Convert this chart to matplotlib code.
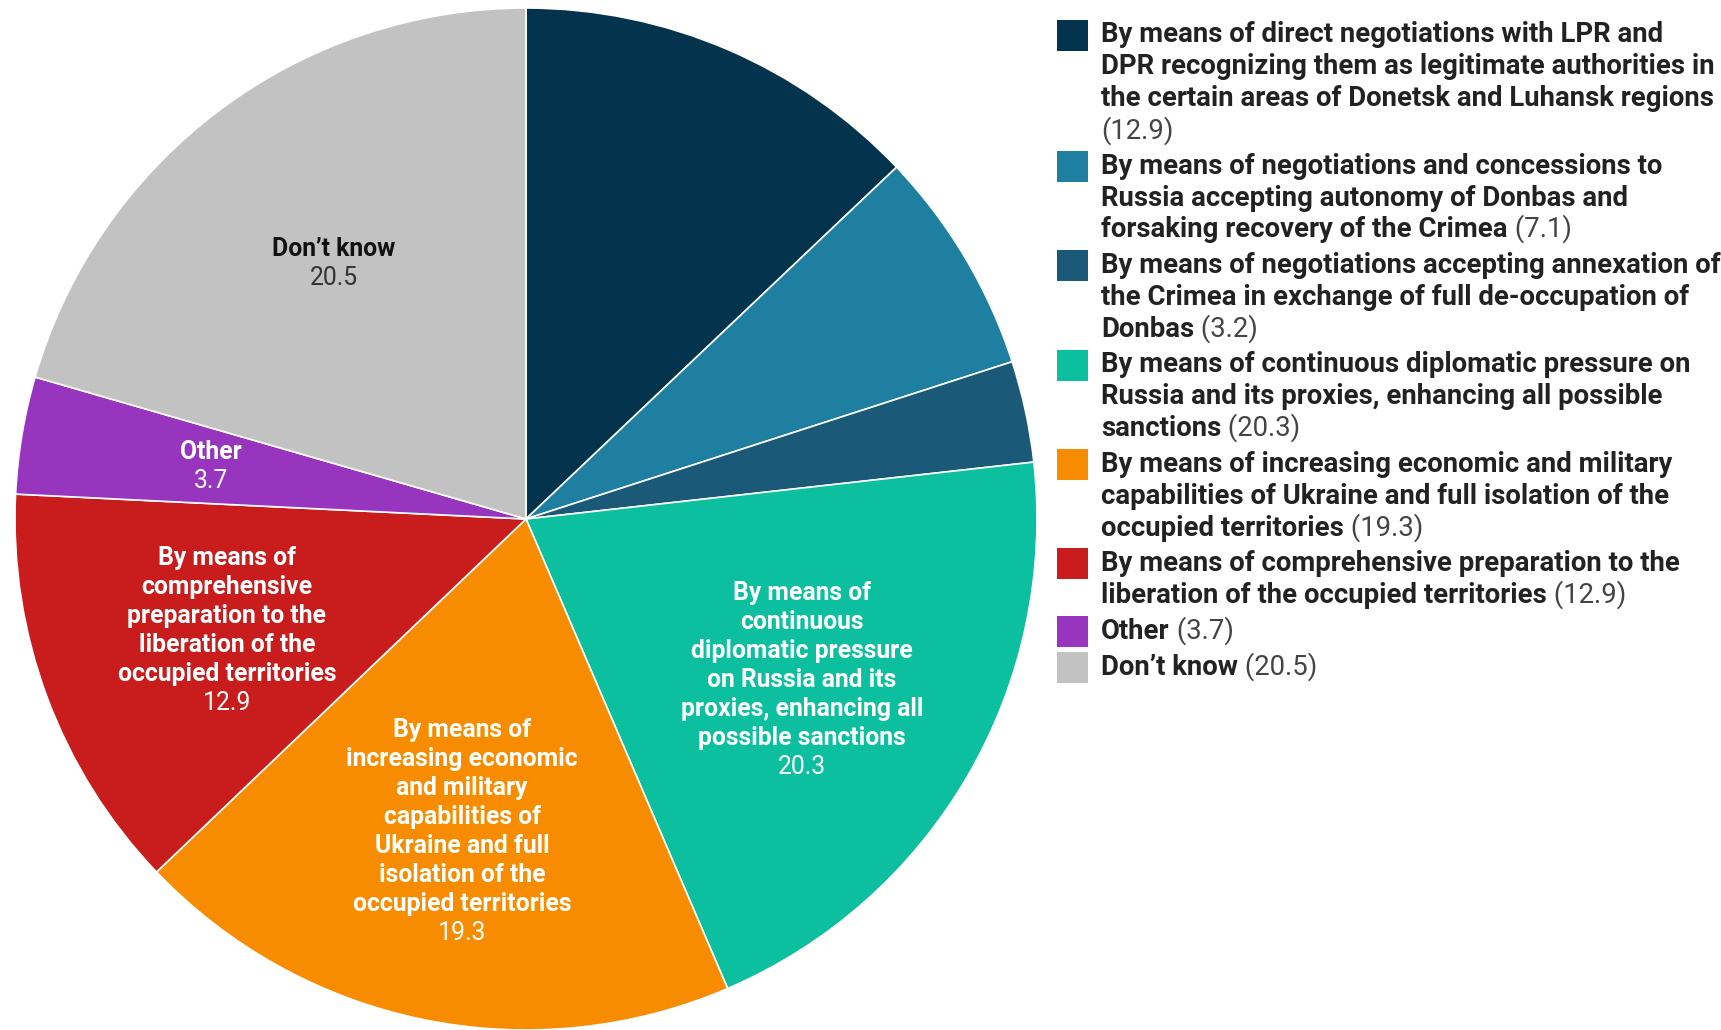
import matplotlib
matplotlib.use("Agg")
import matplotlib.pyplot as plt
import numpy as np

# ---- data ----
legend_labels = [
    "By means of direct negotiations with LPR and\nDPR recognizing them as legitimate authorities in\nthe certain areas of Donetsk and Luhansk regions\n",
    "By means of negotiations and concessions to\nRussia accepting autonomy of Donbas and\nforsaking recovery of the Crimea",
    "By means of negotiations accepting annexation of\nthe Crimea in exchange of full de-occupation of\nDonbas",
    "By means of continuous diplomatic pressure on\nRussia and its proxies, enhancing all possible\nsanctions",
    "By means of increasing economic and military\ncapabilities of Ukraine and full isolation of the\noccupied territories",
    "By means of comprehensive preparation to the\nliberation of the occupied territories",
    "Other",
    "Don\u2019t know",
]
slice_labels = [
    None,
    None,
    None,
    "By means of\ncontinuous\ndiplomatic pressure\non Russia and its\nproxies, enhancing all\npossible sanctions",
    "By means of\nincreasing economic\nand military\ncapabilities of\nUkraine and full\nisolation of the\noccupied territories",
    "By means of\ncomprehensive\npreparation to the\nliberation of the\noccupied territories",
    "Other",
    "Don\u2019t know",
]
values = [12.9, 7.1, 3.2, 20.3, 19.3, 12.9, 3.7, 20.5]
colors = ["#04344d", "#1e7fa0", "#1a5a78", "#0bbf9f", "#f88c00", "#c81c1d", "#9835be", "#c2c2c2"]
label_colors = [None, None, None, "white", "white", "white", "white", "#111111"]
value_colors = [None, None, None, "white", "white", "white", "white", "#333333"]

W, H = 1721, 1030
fig = plt.figure(figsize=(W / 100, H / 100), dpi=100)
ax = fig.add_axes([0, 0, 1, 1])

FONT = "Roboto"
cx, cy, R = 526, H - 519, 511

wedges, _ = ax.pie(values, colors=colors, startangle=90, counterclock=False,
                   center=(cx, cy), radius=R, normalize=True,
                   wedgeprops=dict(edgecolor="white", linewidth=1.2))
ax.set_xlim(0, W)
ax.set_ylim(0, H)
ax.set_aspect("equal")
ax.axis("off")

# ---- labels inside slices ----
pitch = 29.0
wfs = 17.8
for w, lab, v, lc, vc in zip(wedges, slice_labels, values, label_colors, value_colors):
    if lab is None:
        continue
    ang = np.deg2rad((w.theta1 + w.theta2) / 2)
    px = cx + 0.625 * R * np.cos(ang)
    py = cy + 0.625 * R * np.sin(ang)
    lines = lab.split("\n")
    N = len(lines) + 1
    top = py + (N - 1) * pitch / 2
    for i, ln in enumerate(lines):
        ax.text(px, top - i * pitch, ln, ha="center", va="center", fontsize=wfs,
                fontweight="bold", color=lc, family=FONT)
    ax.text(px, top - len(lines) * pitch, f"{v}", ha="center", va="center",
            fontsize=wfs, color=vc, family=FONT)

# ---- legend ----
lx_sq, sq, lx_txt = 1057, 31, 1101
lpitch = 31.8
lfs = 19.8
y = H - 35
for lab, v, c in zip(legend_labels, values, colors):
    ax.add_patch(plt.Rectangle((lx_sq, y - sq / 2), sq, sq, color=c, lw=0))
    lines = lab.split("\n")
    for i, ln in enumerate(lines):
        yy = y - i * lpitch
        if ln:
            t = ax.text(lx_txt, yy, ln, ha="left", va="center", fontsize=lfs,
                        fontweight="bold", color="#222222", family=FONT)
        if i == len(lines) - 1:
            if ln:
                ax.annotate(f" ({v})", xy=(1, 0), xycoords=t, ha="left", va="bottom",
                            fontsize=lfs, color="#444444", family=FONT)
            else:
                ax.text(lx_txt, yy, f"({v})", ha="left", va="center", fontsize=lfs,
                        color="#444444", family=FONT)
    y -= len(lines) * lpitch + 4

fig.savefig("out.png", dpi=100, facecolor="white")
